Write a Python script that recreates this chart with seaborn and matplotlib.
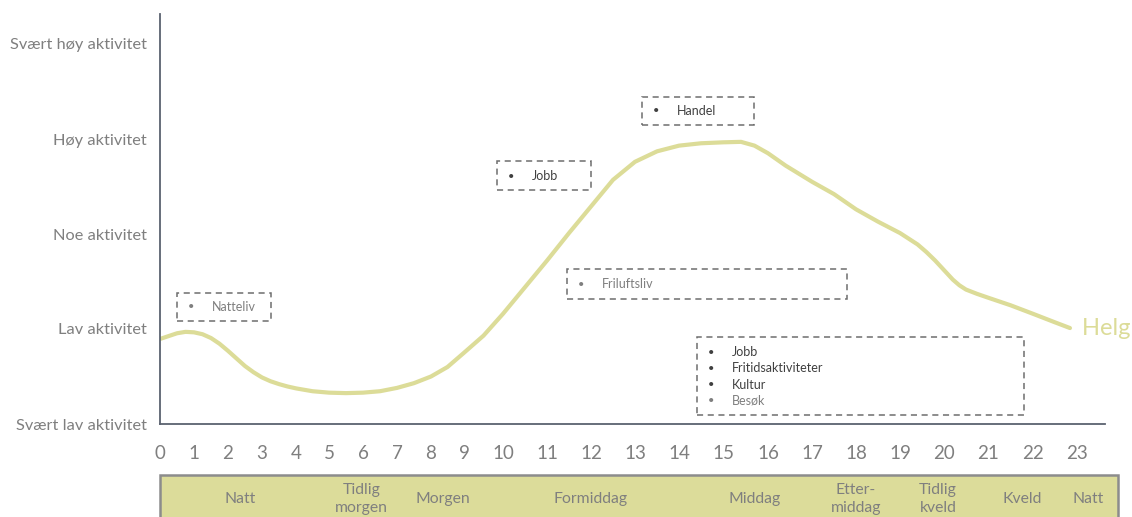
import numpy as np
import pandas as pd
import matplotlib
matplotlib.use("Agg")
import matplotlib.pyplot as plt
import matplotlib.transforms as mtransforms
from matplotlib.patches import Rectangle
import seaborn as sns

# ---- data -------------------------------------------------------------
hours = [0, 0.25, 0.5, 0.75, 1.0, 1.25, 1.5, 1.75, 2.0, 2.25, 2.5, 2.75,
         3.0, 3.25, 3.5, 3.75, 4.0, 4.5, 5.0, 5.5, 6.0, 6.5, 7.0, 7.5, 8.0,
         8.5, 9.0, 9.5, 10.0, 10.5, 11.0, 11.5, 12.0, 12.5, 13.0, 13.5, 14.0,
         14.5, 15.0, 15.4, 15.7, 16.0, 16.4, 17.0, 17.5, 18.0, 18.5, 19.0,
         19.4, 19.6, 19.8, 20.0, 20.2, 20.35, 20.5, 20.75, 21.0, 21.5, 22.0,
         22.5, 22.84]
activity = [0.895, 0.925, 0.955, 0.97, 0.965, 0.945, 0.905, 0.845, 0.77,
            0.69, 0.61, 0.545, 0.49, 0.45, 0.42, 0.395, 0.375, 0.345, 0.33,
            0.325, 0.33, 0.345, 0.38, 0.43, 0.50, 0.60, 0.75, 0.93, 1.16,
            1.44, 1.72, 2.01, 2.29, 2.57, 2.76, 2.87, 2.93, 2.955, 2.965,
            2.97, 2.93, 2.85, 2.72, 2.55, 2.42, 2.26, 2.13, 2.01, 1.89, 1.81,
            1.72, 1.62, 1.52, 1.46, 1.415, 1.37, 1.33, 1.25, 1.16, 1.07, 1.01]
series_name = "Helg"

level_labels = ["Svært lav aktivitet", "Lav aktivitet", "Noe aktivitet",
                "Høy aktivitet", "Svært høy aktivitet"]
hour_ticks = list(range(24))

period_labels = ["Natt", "Tidlig\nmorgen", "Morgen", "Formiddag", "Middag",
                 "Etter-\nmiddag", "Tidlig\nkveld", "Kveld", "Natt"]
period_centers = [2.37, 5.95, 8.35, 11.98, 15.7, 18.0, 19.86, 21.75, 23.25]

natteliv_items = ["Natteliv"]
jobb_items = ["Jobb"]
handel_items = ["Handel"]
friluft_items = ["Friluftsliv"]
kveld_items = ["Jobb", "Fritidsaktiviteter", "Kultur", "Besøk"]

# ---- style ------------------------------------------------------------
sns.set_style("white")
plt.rcParams["font.family"] = ["Lato", "DejaVu Sans"]

W, H = 1132, 517
fig = plt.figure(figsize=(W / 100, H / 100), dpi=100)

GREY = "#7f7f7f"
DARK = "#404040"
AXIS = "#5b6270"
LINE = "#dcdc98"
BAND = "#dcdc9a"


def fx(px):
    return px / W


def fy(py):
    return 1 - py / H


ax = fig.add_axes([fx(160), fy(424), fx(1105) - fx(160), fy(14) - fy(424)])

# hour axis: two-digit hours take a little more room than single digits
tick_px = [160, 194, 228, 262, 296, 329, 363, 397, 431, 464, 503, 547, 591,
           635, 679, 723, 768, 812, 856, 900, 944, 988, 1033, 1077]
h_knots = np.array([-10] + hour_ticks + [40], dtype=float)
p_knots = np.array([160 - 10 * 33.8] + tick_px + [1077 + 17 * 44.2])


def fwd(x):
    return np.interp(x, h_knots, p_knots)


def inv(p):
    return np.interp(p, p_knots, h_knots)


ax.set_xscale("function", functions=(fwd, inv))

df = pd.DataFrame({"time": hours, "level": activity})
sns.lineplot(data=df, x="time", y="level", ax=ax, color=LINE, lw=3,
             solid_capstyle="round", solid_joinstyle="round", legend=False)

ax.set_xlim(0, inv(1105))
ax.set_ylim(0, (424 - 14) / 95)
ax.set_xlabel("")
ax.set_ylabel("")

ax.set_yticks(range(5))
ax.set_yticklabels(level_labels, fontsize=11.8, color=GREY)
ax.set_xticks(hour_ticks)
ax.set_xticklabels([str(h) for h in hour_ticks], fontsize=13.5, color=GREY)
ax.tick_params(axis="y", length=0, pad=9.5)
ax.tick_params(axis="x", length=0, pad=15)
ax.xaxis.set_minor_locator(matplotlib.ticker.NullLocator())

for s in ["top", "right"]:
    ax.spines[s].set_visible(False)
for s in ["left", "bottom"]:
    ax.spines[s].set_color(AXIS)
    ax.spines[s].set_linewidth(1.3)

ax.text(hours[-1], activity[-1], "  " + series_name, color=LINE, fontsize=17,
        ha="left", va="center")

# ---- time-of-day band under the axis --------------------------------
fig.patches.append(Rectangle((fx(160), fy(540)), fx(1118) - fx(160),
                             fy(475) - fy(540), transform=fig.transFigure,
                             facecolor=BAND, edgecolor="#8c8c8c", lw=1.8,
                             zorder=0))
band_tr = mtransforms.blended_transform_factory(ax.transData, fig.transFigure)
for lab, c in zip(period_labels, period_centers):
    fig.text(c, fy(499), lab, transform=band_tr, ha="center", va="center",
             fontsize=11.3, color=GREY, linespacing=1.3)


# ---- dashed activity boxes -----------------------------------------
def activity_box(x0, y0, x1, y1, items, colors, first_y, step=16.3):
    fig.patches.append(Rectangle((fx(x0), fy(y1)), fx(x1) - fx(x0),
                                 fy(y0) - fy(y1), transform=fig.transFigure,
                                 facecolor="none", edgecolor="#6e6e6e",
                                 lw=1.1, linestyle=(0, (4, 3))))
    for i, (item, col) in enumerate(zip(items, colors)):
        yy = fy(first_y + i * step)
        fig.text(fx(x0 + 14), yy, "•", ha="center", va="center",
                 fontsize=8, color=col)
        fig.text(fx(x0 + 35), yy, item, ha="left", va="center",
                 fontsize=9, color=col)


activity_box(177, 293, 271, 321, natteliv_items, [GREY], 307)
activity_box(497, 161, 591, 190, jobb_items, [DARK], 176)
activity_box(642, 97, 754, 125, handel_items, [DARK], 111)
activity_box(567, 269, 847, 299, friluft_items, [GREY], 284)
activity_box(697, 337, 1024, 415, kveld_items, [DARK, DARK, DARK, GREY], 352)

fig.savefig("out.png", dpi=100)
